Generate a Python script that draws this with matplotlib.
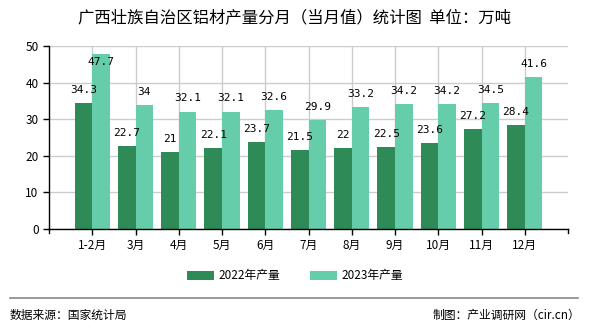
import matplotlib
matplotlib.use('Agg')
import matplotlib.pyplot as plt
import numpy as np

plt.rcParams['font.family'] = ['Noto Sans CJK SC', 'DejaVu Sans']

# data
months = ['1-2月', '3月', '4月', '5月', '6月', '7月', '8月', '9月', '10月', '11月', '12月']
prod_2022 = [34.3, 22.7, 21, 22.1, 23.7, 21.5, 22, 22.5, 23.6, 27.2, 28.4]
prod_2023 = [47.7, 34, 32.1, 32.1, 32.6, 29.9, 33.2, 34.2, 34.2, 34.5, 41.6]
labels_2022 = ['34.3', '22.7', '21', '22.1', '23.7', '21.5', '22', '22.5', '23.6', '27.2', '28.4']
labels_2023 = ['47.7', '34', '32.1', '32.1', '32.6', '29.9', '33.2', '34.2', '34.2', '34.5', '41.6']

c22 = '#2e8b57'
c23 = '#66cdaa'

fig = plt.figure(figsize=(5.9, 3.3), dpi=100)
ax = fig.add_axes([49 / 590, 1 - 229 / 330, (568 - 49) / 590, (229 - 46) / 330])

x = np.arange(len(months))
w = 0.41
b1 = ax.bar(x - w / 2, prod_2022, w, color=c22, label='2022年产量', zorder=2)
b2 = ax.bar(x + w / 2, prod_2023, w, color=c23, label='2023年产量', zorder=2)

# labels sit above the bars, but are kept inside the plot area
for xi, v, t in zip(x, prod_2022, labels_2022):
    ax.text(xi - w / 2, min(v + 2.2, 44.3), t, ha='center', va='bottom', fontsize=8,
            family='DejaVu Sans Mono', zorder=3)
for xi, v, t in zip(x, prod_2023, labels_2023):
    ax.text(xi + w / 2, min(v + 2.2, 44.3), t, ha='center', va='bottom', fontsize=8,
            family='DejaVu Sans Mono', zorder=3)

ax.set_xlim(-1, len(months))
ax.set_ylim(0, 50)
ax.set_yticks([0, 10, 20, 30, 40, 50])
ax.set_xticks(x)
ax.set_xticklabels(months, fontsize=8.5)
ax.tick_params(axis='y', labelsize=8.5, length=4, width=1)
ax.tick_params(axis='x', length=4, width=1)
for xx in [-1, len(months)]:
    ax.plot([xx, xx], [0, -1.2], color='black', lw=1, clip_on=False)

ax.grid(True, color='#cccccc', lw=1, zorder=0)
ax.set_axisbelow(True)
for s in ['top', 'right']:
    ax.spines[s].set_visible(False)
ax.spines['left'].set_linewidth(1)
ax.spines['bottom'].set_linewidth(1)

fig.text(294 / 590, 1 - 18 / 330, '广西壮族自治区铝材产量分月（当月值）统计图  单位：万吨',
         ha='center', va='center', fontsize=11.8)

leg = fig.legend(handles=[b1, b2], loc='center', bbox_to_anchor=(0.5, 1 - 276 / 330),
                 ncol=2, frameon=False, fontsize=8.5, handlelength=2.3,
                 handleheight=0.8, columnspacing=2.5, handletextpad=0.4)

fig.add_artist(plt.Line2D([10 / 590, 578 / 590], [1 - 298 / 330, 1 - 298 / 330],
                          color='#888888', lw=1.2))
fig.text(10 / 590, 1 - 315 / 330, '数据来源：国家统计局', ha='left', va='center', fontsize=8.5)
fig.text(580 / 590, 1 - 315 / 330, '制图：产业调研网（cir.cn）', ha='right', va='center', fontsize=8.5)

fig.savefig('out.png', dpi=100)
